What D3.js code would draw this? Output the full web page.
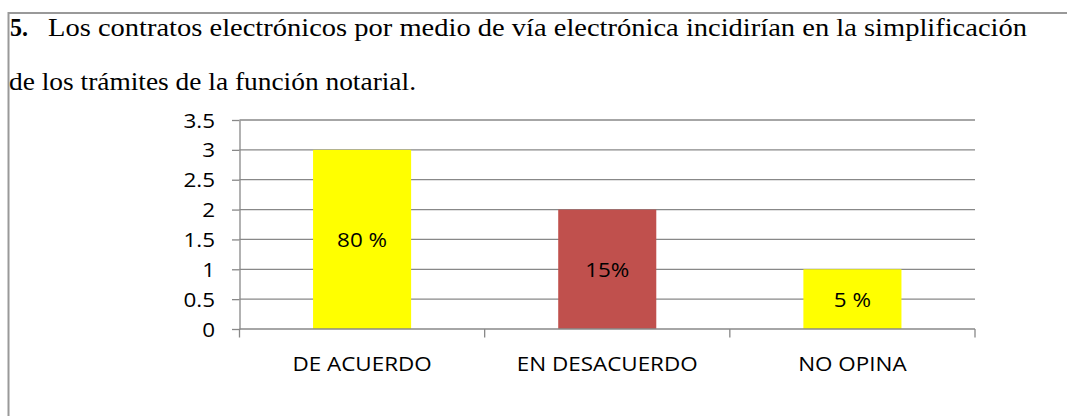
<!DOCTYPE html>
<html>
<head>
<meta charset="utf-8">
<script src="https://cdn.jsdelivr.net/npm/d3@7/dist/d3.min.js"></script>
<style>
  html, body { margin: 0; padding: 0; background: #fff; }
  svg { display: block; }
</style>
</head>
<body>
<div id="chart"></div>
<script>
const width = 1067;
const height = 416;

// data
const categories = ["DE ACUERDO", "EN DESACUERDO", "NO OPINA"];
const values = [3, 2, 1];
const barLabels = ["80 %", "15%", "5 %"];
const barColors = ["#FFFF00", "#C0504D", "#FFFF00"];
const yTicks = [0, 0.5, 1, 1.5, 2, 2.5, 3, 3.5];
const titleLines = [
  "Los contratos electrónicos por medio de vía electrónica incidirían en la simplificación",
  "de los trámites de la función notarial."
];

const svg = d3.select('#chart')
  .append('svg')
  .attr('width', width)
  .attr('height', height);

// frame of the text box
svg.append('line')
  .attr('x1', 8).attr('x2', width).attr('y1', 13).attr('y2', 13)
  .attr('stroke', '#999').attr('stroke-width', 2);
svg.append('line')
  .attr('x1', 8.5).attr('x2', 8.5).attr('y1', 12).attr('y2', height)
  .attr('stroke', '#999').attr('stroke-width', 2);

// title
const serif = '"Liberation Serif", "Times New Roman", serif';
const titleSize = '25px';
svg.append('text')
  .attr('x', 10).attr('y', 36)
  .attr('textLength', 18).attr('lengthAdjust', 'spacingAndGlyphs')
  .style('font-family', serif).style('font-size', titleSize).style('font-weight', 'bold')
  .text('5.');
svg.append('text')
  .attr('x', 48).attr('y', 36)
  .attr('textLength', 979).attr('lengthAdjust', 'spacingAndGlyphs')
  .style('font-family', serif).style('font-size', titleSize)
  .text(titleLines[0]);
svg.append('text')
  .attr('x', 9).attr('y', 90)
  .attr('textLength', 407).attr('lengthAdjust', 'spacingAndGlyphs')
  .style('font-family', serif).style('font-size', titleSize)
  .text(titleLines[1]);

// chart
const plot = { left: 239.5, right: 975, top: 120, bottom: 329 };
const sans = '"Open Sans", "Liberation Sans", sans-serif';
const stretch = 1.15;
const gridColor = '#888';

const y = d3.scaleLinear().domain([0, 3.5]).range([plot.bottom, plot.top]);
const x = d3.scaleBand().domain(categories)
  .range([plot.left, plot.right])
  .paddingInner(0.6).paddingOuter(0.3);
const xCat = d3.scaleBand().domain(categories).range([plot.left, plot.right]);

// gridlines
svg.append('g')
  .selectAll('line')
  .data(yTicks.filter(d => d > 0))
  .join('line')
  .attr('x1', plot.left).attr('x2', plot.right)
  .attr('y1', d => y(d)).attr('y2', d => y(d))
  .attr('stroke', gridColor).attr('stroke-width', 1.3);

// bars
svg.append('g')
  .selectAll('rect')
  .data(categories)
  .join('rect')
  .attr('x', d => x(d))
  .attr('y', (d, i) => y(values[i]))
  .attr('width', x.bandwidth())
  .attr('height', (d, i) => y(0) - y(values[i]))
  .attr('fill', (d, i) => barColors[i]);

// y axis
const yAxis = svg.append('g')
  .attr('transform', `translate(${plot.left},0)`)
  .call(d3.axisLeft(y).tickValues(yTicks).tickSize(7.5).tickSizeOuter(0).tickPadding(17).tickFormat(d3.format('')));
yAxis.select('.domain').attr('stroke', gridColor).attr('stroke-width', 1.3);
yAxis.selectAll('.tick line').attr('stroke', gridColor).attr('stroke-width', 1.3);
yAxis.selectAll('.tick text')
  .style('font-family', sans).style('font-size', '19.5px').attr('fill', '#000')
  .attr('dy', '0.36em')
  .attr('transform', `scale(${stretch},1)`)
  .attr('x', -24.5 / stretch);

// x axis
const bounds = categories.map(c => xCat(c)).concat([plot.right]);
const xAxis = svg.append('g');
xAxis.append('line')
  .attr('x1', plot.left).attr('x2', plot.right)
  .attr('y1', plot.bottom).attr('y2', plot.bottom)
  .attr('stroke', gridColor).attr('stroke-width', 1.3);
xAxis.selectAll('line.tk')
  .data(bounds)
  .join('line')
  .attr('class', 'tk')
  .attr('x1', d => d).attr('x2', d => d)
  .attr('y1', plot.bottom).attr('y2', plot.bottom + 8.5)
  .attr('stroke', gridColor).attr('stroke-width', 1.3);
xAxis.selectAll('text')
  .data(categories)
  .join('text')
  .attr('transform', d => `translate(${xCat(d) + xCat.bandwidth() / 2},${plot.bottom + 35}) scale(${stretch},1)`)
  .attr('text-anchor', 'middle')
  .attr('dy', '0.36em')
  .style('font-family', sans).style('font-size', '19.5px')
  .text(d => d);

// value labels inside bars
svg.append('g')
  .selectAll('text')
  .data(categories)
  .join('text')
  .attr('transform', (d, i) => `translate(${x(d) + x.bandwidth() / 2},${(y(values[i]) + y(0)) / 2 + 1}) scale(${stretch},1)`)
  .attr('text-anchor', 'middle')
  .attr('dy', '0.36em')
  .style('font-family', sans).style('font-size', '19.5px')
  .text((d, i) => barLabels[i]);
</script>
</body>
</html>
